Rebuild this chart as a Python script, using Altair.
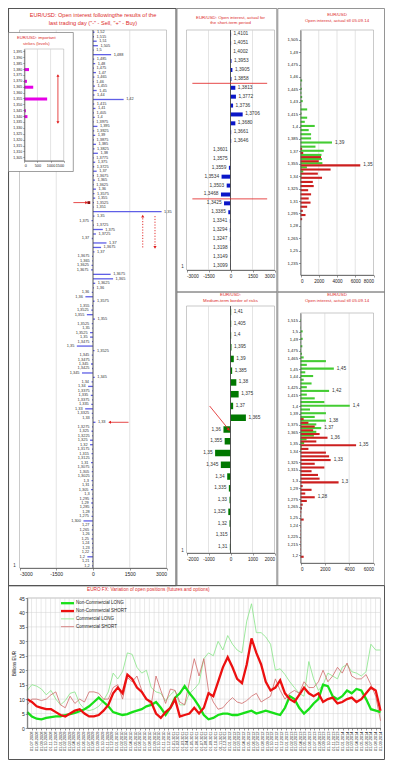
import altair as alt
import pandas as pd

FONT = "Liberation Sans"
TITLE_RED = "#dc2a2a"
ARROW_RED = "#e01b1b"
TXT = "#333333"
GRID = "#d2d2d2"
PFRAME = "#a6a6a6"
OFRAME = "#7a7a7a"
VW, VH = 377, 752

# ------------------------------------------------------------------ DATA
# Left panel: open interest after the last trading day (one row per strike line)
left_labels = [
    "1,52", "1,515", "1,51", "1,505", "1,5", "1,488", "1,485", "1,48", "1,475", "1,47",
    "1,465", "1,46", "1,455", "1,45", "1,44", "1,42", "1,415", "1,41", "1,405", "1,4",
    "1,3975", "1,395", "1,3925", "1,39", "1,3875", "1,385", "1,3825", "1,38", "1,3775", "1,375",
    "1,3725", "1,37", "1,3675", "1,365", "1,3625", "1,36", "1,3575", "1,355", "1,3525", "1,351",
    "1,35", "1,35", "1,375", "1,3725", "1,375", "1,3725", "1,37", "1,37", "1,3675", "1,37",
    "1,3675", "1,365", "1,3625", "1,3675", "1,3675", "1,365", "1,3625", "1,36", "1,36", "1,36",
    "1,3575", "1,355", "1,3525", "1,355", "1,355", "1,3525", "1,35", "1,3525", "1,35", "1,3475",
    "1,35", "1,3525", "1,345", "1,3475", "1,345", "1,3425", "1,345", "1,345", "1,34", "1,34",
    "1,3375", "1,335", "1,3375", "1,335", "1,33", "1,3325", "1,33", "1,33", "1,3275", "1,325",
    "1,3225", "1,325", "1,32", "1,3175", "1,315", "1,3125", "1,31", "1,3075", "1,305", "1,3025",
    "1,3", "1,31", "1,305", "1,3", "1,295", "1,29", "1,285", "1,28", "1,275", "1,300",
    "1,27", "1,265", "1,26", "1,25", "1,24", "1,23", "1,22", "1,2", "1,21", "1,2",
]
left_oi = [
    60, 40, 150, 200, 30, 740, 50, 90, 40, 120,
    60, 30, 80, 150, 60, 1250, 50, 100, 40, 70,
    30, 180, 50, 90, 40, 120, 60, 200, 30, 90,
    50, 150, 40, 80, 30, 120, 60, 90, 40, 30,
    2800, 60, -60, 40, 400, 120, -50, 550, 330, 60,
    -40, -30, -60, -80, 720, 820, 90, 40, -50, -310,
    60, -40, -70, -250, 80, -50, -30, -120, -120, -40,
    -660, 60, -50, -30, -80, -40, -450, 70, -60, -200,
    -30, -90, -40, -70, -320, -50, -30, 100, -40, -60,
    -30, -120, -120, -40, -60, -30, -80, -40, -50, -30,
    -60, -40, -80, -30, -50, -70, -40, -30, -60, -390,
    -40, -50, -30, -60, -40, -30, -50, -230, -40, -30,
]
left_idx = list(range(len(left_labels)))

# inset: important strikes (levels)
inset_strikes = ["1,395", "1,390", "1,385", "1,380", "1,375", "1,370", "1,365", "1,360", "1,355",
                 "1,350", "1,345", "1,340", "1,335", "1,330", "1,325", "1,320", "1,315", "1,310", "1,305"]
inset_oi = [0, 0, 0, 180, 0, 100, 340, 0, 870, 0, 60, 120, 0, 0, 0, 0, 0, 0, 0]

# middle top: short-term open interest
mt_strikes = ["1,4101", "1,4051", "1,4002", "1,3953", "1,3905", "1,3858", "1,3813", "1,3772", "1,3736",
              "1,3706", "1,3680", "1,3661", "1,3646", "1,3601", "1,3575", "1,3559", "1,3534", "1,3503",
              "1,3468", "1,3425", "1,3385", "1,3341", "1,3294", "1,3247", "1,3198", "1,3149", "1,3099"]
mt_oi = [40, 40, 20, 65, 130, 65, 330, 370, 175, 830, 330, 45, 45, -20, -20, -110, -610, -260,
         -650, -440, -150, -45, -45, -40, -20, -20, -20]
mt_borders = ["1,3813", "1,3425"]

# middle bottom: medium-term border of risks
mb_strikes = ["1,41", "1,405", "1,4", "1,395", "1,39", "1,385", "1,38", "1,375", "1,37", "1,365",
              "1,36", "1,355", "1,35", "1,345", "1,34", "1,335", "1,33", "1,325", "1,32", "1,315", "1,31"]
mb_oi = [30, 30, 30, 45, 150, 75, 265, 370, 120, 700, -320, -265, -700, -440, -150, -75, -45, -100,
         -45, -15, -30]

# right top: open interest (calls green / puts red)
rt_strikes = [1.505, 1.5, 1.495, 1.49, 1.485, 1.48, 1.475, 1.47, 1.465, 1.46, 1.455, 1.45, 1.445, 1.44,
              1.435, 1.43, 1.425, 1.42, 1.415, 1.41, 1.405, 1.4, 1.395, 1.39, 1.385, 1.38, 1.375, 1.37,
              1.365, 1.36, 1.355, 1.35, 1.345, 1.34, 1.335, 1.33, 1.325, 1.32, 1.315, 1.31, 1.305, 1.3,
              1.295, 1.29, 1.285, 1.28, 1.275, 1.27, 1.265, 1.26, 1.255, 1.25, 1.245, 1.24, 1.235, 1.23]
rt_call = [0, 0, 0, 0, 0, 0, 0, 0, 0, 0, 180, 60, 150, 100, 180, 250, 60, 730, 120, 730, 470, 1560,
           900, 1160, 1160, 3450, 1640, 2550, 2300, 2350, 2400, 700, 300, 100, 50, 0, 0, 0, 0, 0, 0, 0,
           0, 0, 0, 0, 0, 0, 0, 0, 0, 0, 0, 0, 0, 0]
rt_put = [0, 0, 0, 0, 0, 0, 0, 0, 0, 0, 0, 0, 0, 0, 0, 0, 0, 0, 0, 0, 0, 0, 0, 0, 0, 0, 180, 300,
          2250, 2000, 6550, 3300, 1900, 2360, 1350, 1450, 840, 1160, 900, 1100, 730, 250, 550, 180, 0,
          0, 0, 0, 0, 0, 0, 0, 0, 0, 0, 0]
rt_ticks = [1.505, 1.49, 1.475, 1.46, 1.445, 1.43, 1.415, 1.4, 1.385, 1.37, 1.355, 1.34, 1.325, 1.31,
            1.295, 1.28, 1.265, 1.25, 1.235]
rt_call_notes = {"strike": [1.38], "call": [3450], "t": ["1,39"]}
rt_put_notes = {"strike": [1.355], "put": [6550], "t": ["1,35"]}

# right bottom: open interest (calls green / puts red)
rb_strikes = [1.515, 1.51, 1.505, 1.5, 1.495, 1.49, 1.485, 1.48, 1.475, 1.47, 1.465, 1.46, 1.455, 1.45,
              1.445, 1.44, 1.435, 1.43, 1.425, 1.42, 1.415, 1.41, 1.405, 1.4, 1.395, 1.39, 1.385, 1.38,
              1.375, 1.37, 1.365, 1.36, 1.355, 1.35, 1.345, 1.34, 1.335, 1.33, 1.325, 1.32, 1.315, 1.31,
              1.305, 1.3, 1.295, 1.29, 1.285, 1.28, 1.275, 1.27, 1.265, 1.26, 1.255, 1.25, 1.245, 1.24,
              1.235, 1.23, 1.225, 1.22, 1.215, 1.21, 1.205, 1.2]
rb_call = [40, 0, 30, 180, 30, 180, 30, 150, 40, 120, 260, 2090, 520, 2740, 390, 1040, 260, 910, 520,
           2350, 520, 1170, 1960, 4050, 780, 2090, 1170, 2090, 1300, 1700, 1300, 1100, 500, 300, 100, 60,
           0, 0, 0, 0, 0, 0, 0, 0, 0, 0, 0, 0, 0, 0, 0, 0, 0, 0, 0, 0, 0, 0, 0, 0, 0, 0, 0, 0]
rb_put = [0, 0, 0, 0, 0, 0, 0, 0, 0, 0, 0, 0, 0, 0, 0, 0, 0, 0, 0, 0, 0, 0, 0, 0, 0, 0, 260, 650, 1170,
          1040, 1570, 2220, 1300, 4570, 650, 2090, 2350, 2480, 1170, 1960, 910, 1440, 1570, 3130, 180,
          910, 390, 1170, 520, 180, 120, 60, 40, 260, 30, 30, 30, 30, 30, 30, 30, 30, 30, 260]
rb_ticks = [1.515, 1.5, 1.49, 1.475, 1.465, 1.45, 1.44, 1.425, 1.415, 1.4, 1.39, 1.375, 1.365, 1.35,
            1.34, 1.325, 1.315, 1.3, 1.29, 1.275, 1.265, 1.25, 1.24, 1.225, 1.215, 1.2]
rb_call_notes = {"strike": [1.45, 1.42, 1.4, 1.38, 1.37], "call": [2740, 2350, 4050, 2090, 1700],
                 "t": ["1,45", "1,42", "1,4", "1,38", "1,37"]}
rb_put_notes = {"strike": [1.36, 1.35, 1.33, 1.3, 1.28], "put": [2220, 4570, 2480, 3130, 1170],
                "t": ["1,36", "1,35", "1,33", "1,3", "1,28"]}

# bottom: EURO FX open positions, billions EUR
series_names = ["Non-Commercial LONG", "Non-Commercial SHORT", "Commercial LONG", "Commercial SHORT"]
series_colors = ["#18e018", "#ec1010", "#86e486", "#cf6a6a"]
nc_long = [5.5, 4, 3.2, 3, 3.5, 3.8, 4, 4, 4.5, 4.8, 5.2, 5.8, 6.5, 7.5, 9, 10.5, 9, 7.5, 5.5, 5,
           4.5, 4.8, 5.5, 6, 6.5, 7.5, 8, 9, 7, 4.5, 7, 10.5, 12, 14.5, 12, 10, 7.5, 4.5, 3, 3.5,
           4.5, 5, 5, 4.5, 4.5, 5, 5.5, 6, 5, 5.5, 6, 5.5, 5, 4.5, 7, 11, 10, 7, 5, 6.5,
           8.5, 10, 15, 14.5, 11, 10, 11, 13, 12, 13.5, 13, 10, 6.5, 6, 5.5]
nc_short = [10, 9, 7.5, 7, 6.5, 6.5, 5.5, 4.5, 4, 5, 6, 6.5, 5, 4, 4, 4.5, 6, 8, 12, 14,
            12, 18.5, 17, 14, 12.5, 10, 9, 5, 3.5, 5.5, 7, 10, 4, 4.5, 5, 7, 5, 7, 12, 11,
            16, 21, 24.5, 21, 17, 15.5, 22, 31, 26, 22, 16, 13, 14, 16.5, 12, 10, 9, 11.5, 14, 12,
            11, 12, 9, 10, 10.5, 8.5, 9, 10, 10.5, 9, 10, 12, 14, 13, 6]
c_long = [13, 15, 14.5, 13.5, 11.5, 13, 10, 8, 9.5, 12, 12.5, 8.5, 6.5, 6, 6.5, 7.5, 9.5, 12.5, 19, 17,
          19.5, 26, 25.5, 21, 19, 20, 14, 12.5, 12, 9.5, 11.5, 13, 8, 8, 12, 13.5, 15.5, 24, 26, 25,
          30, 27, 32, 29, 27, 26, 37, 43, 33, 33, 31.5, 29, 20, 20.5, 18.5, 16, 14, 12, 11, 23,
          17, 13, 15, 19, 18, 17, 21, 22, 19.5, 19, 18, 19.5, 29, 27, 27]
c_short = [8, 10, 10, 9.5, 10, 11.5, 12.5, 8, 7, 11, 8.5, 10, 9, 12.5, 12.5, 12, 10, 10, 14, 15,
           10, 17.5, 16, 18, 13, 10, 8, 18, 13, 8.5, 13.5, 13, 9, 8, 16, 24, 18, 24, 13, 9,
           6.5, 7, 9, 10.5, 9, 8.5, 9.5, 11, 12, 9, 10, 11, 17, 13, 10, 12, 13, 12, 16, 14,
           14, 16, 20, 16, 18, 21, 19, 22.5, 18, 17, 17, 18.5, 15, 11, 2.5]
series_start, series_end = "2008-06-03", "2014-09-02"
tick_months = [(y, m) for y in range(2008, 2015) for m in range(1, 13)
               if (2008, 7) <= (y, m) <= (2014, 9)]

# ------------------------------------------------------------------ helpers
ONE = pd.DataFrame({"f": [0]})


def rect(x1, x2, y1, y2, stroke=OFRAME, sw=0.8, fill="white", fo=0.0):
    return alt.Chart(ONE).mark_rect(fill=fill, fillOpacity=fo, stroke=stroke, strokeWidth=sw).encode(
        x=alt.value(x1), x2=alt.value(x2), y=alt.value(y1), y2=alt.value(y2))


def label(x, y, text, size=5.0, color=TXT, align="center"):
    return alt.Chart(pd.DataFrame({"t": [text]})).mark_text(
        fontSize=size, color=color, align=align, font=FONT, baseline="middle").encode(
        x=alt.value(x), y=alt.value(y), text="t:N")


def xq(field, dom, rng, ticks, axis_y, size=4.8):
    return alt.X(f"{field}:Q", stack=None, scale=alt.Scale(domain=dom, range=rng, nice=False),
                 axis=alt.Axis(orient="bottom", offset=axis_y - VH, values=ticks, grid=False, title=None,
                               labelExpr="datum.value + ''", labelFontSize=size, zindex=1))


def vgrid(field, values, xenc, y1, y2):
    return alt.Chart(pd.DataFrame({field: values})).mark_rule(color=GRID, strokeWidth=0.6).encode(
        x=xenc, y=alt.value(y1), y2=alt.value(y2))


def zero_line(y1, y2):
    return alt.Chart(ONE).mark_rule(color="#444", strokeWidth=0.9).encode(
        x=alt.datum(0), y=alt.value(y1), y2=alt.value(y2))


def bar_labels(df, xenc, yenc, field, size):
    pos = alt.Chart(df).transform_filter("datum.v >= 0").mark_text(
        align="left", dx=2.5, fontSize=size, color=TXT, font=FONT, baseline="middle").encode(
        x=xenc, y=yenc, text=f"{field}:N")
    neg = alt.Chart(df).transform_filter("datum.v < 0").mark_text(
        align="right", dx=-2.5, fontSize=size, color=TXT, font=FONT, baseline="middle").encode(
        x=xenc, y=yenc, text=f"{field}:N")
    return [pos, neg]


# ------------------------------------------------------------------ LEFT PANEL
L_X, L_Y = (11.5, 158.5), (22, 560)
left_df = pd.DataFrame({"idx": left_idx, "lab": left_labels, "v": left_oi})
lx = xq("v", [-3000, 3000], list(L_X), [-3000, -1500, 0, 1500, 3000], L_Y[1], 5)
ly = alt.Y("idx:O", scale=alt.Scale(domain=left_idx, range=list(L_Y), paddingInner=0, paddingOuter=0),
           axis=None)
la_df = pd.DataFrame({"v": [-800, 1450], "v2": [-260, 680], "idx": [38, 87]})
ld_df = pd.DataFrame({"v": [2030, 2530], "idx": [48, 41], "idx2": [41, 48]})
lh_df = pd.DataFrame({"v": [-260, 680, 2030, 2530], "idx": [38, 87, 41, 48],
                      "shape": ["triangle-right", "triangle-left", "triangle-up", "triangle-down"]})
lsq_df = pd.DataFrame({"v": [-170], "idx": [38]})

left_main = alt.layer(
    rect(L_X[0], L_X[1], L_Y[0], L_Y[1], PFRAME, 0.6),
    vgrid("v", [-1500, 1500], lx, L_Y[0], L_Y[1]),
    alt.Chart(left_df).mark_bar(color="#5f5fe6", size=1.3).encode(x=lx, y=ly),
    zero_line(L_Y[0], L_Y[1]),
    *bar_labels(left_df, lx, ly, "lab", 3.9),
    alt.Chart(la_df).mark_rule(color=ARROW_RED, strokeWidth=0.8).encode(x=lx, x2="v2", y=ly),
    alt.Chart(ld_df).mark_rule(color=ARROW_RED, strokeWidth=0.9, strokeDash=[1.2, 1.6]).encode(
        x=lx, y=ly, y2="idx2"),
    alt.Chart(lh_df).mark_point(filled=True, size=10, color=ARROW_RED, opacity=1).encode(
        x=lx, y=ly, shape=alt.Shape("shape:N", scale=None)),
    alt.Chart(lsq_df).mark_point(filled=True, shape="square", size=8, color="#8b1010", opacity=1).encode(
        x=lx, y=ly),
)

# inset
I_X, I_Y = (16.3, 55.7), (41, 152.7)
inset_df = pd.DataFrame({"strike": inset_strikes, "v": inset_oi})
ix = alt.X("v:Q", scale=alt.Scale(domain=[0, 1500], range=list(I_X), nice=False),
           axis=alt.Axis(orient="bottom", offset=I_Y[1] - VH, values=[0, 500, 1000, 1500], grid=False,
                         title=None, labelFontSize=3.8, tickSize=1.5, labelExpr="datum.value + ''",
                         zindex=1, labelPadding=1))
iy = alt.Y("strike:N", sort=None, scale=alt.Scale(domain=inset_strikes, range=list(I_Y),
                                                   paddingInner=0, paddingOuter=0),
           axis=alt.Axis(orient="left", offset=-I_X[0], title=None, labelFontSize=3.6, tickSize=1.5,
                         labelPadding=1, zindex=1, grid=False))
ia_df = pd.DataFrame({"v": [1280], "strike": ["1,375"], "strike2": ["1,335"]})
ih_df = pd.DataFrame({"v": [1280, 1280], "strike": ["1,375", "1,335"],
                      "shape": ["triangle-up", "triangle-down"]})
left_inset = alt.layer(
    rect(0.5, 65.3, 24.5, 163.5, "#777", 0.7, fo=1.0),
    rect(I_X[0], I_X[1], I_Y[0], I_Y[1], PFRAME, 0.5),
    vgrid("v", [500, 1000], ix, I_Y[0], I_Y[1]),
    alt.Chart(inset_df).mark_bar(color="#e600e6", size=3).encode(x=ix, y=iy),
    alt.Chart(ia_df).mark_rule(color=ARROW_RED, strokeWidth=0.8).encode(x=ix, y=iy, y2="strike2"),
    alt.Chart(ih_df).mark_point(filled=True, size=9, color=ARROW_RED, opacity=1).encode(
        x=ix, y=iy, shape=alt.Shape("shape:N", scale=None)),
)

# ------------------------------------------------------------------ MIDDLE TOP
M_X, MT_Y, MB_Y = (178.5, 266.5), (22, 262), (298, 545)
mt_df = pd.DataFrame({"strike": mt_strikes, "v": mt_oi})
mtx = xq("v", [-3000, 3000], list(M_X), [-3000, -1500, 0, 1500, 3000], MT_Y[1], 4.6)
mty = alt.Y("strike:N", sort=None, scale=alt.Scale(domain=mt_strikes, range=list(MT_Y)), axis=None)
mt_line_df = pd.DataFrame({"strike": mt_borders, "v": [-2600, -2600], "v2": [2500, 2500]})
mid_top = alt.layer(
    rect(M_X[0], M_X[1], MT_Y[0], MT_Y[1], PFRAME, 0.6),
    vgrid("v", [-1500, 1500], mtx, MT_Y[0], MT_Y[1]),
    alt.Chart(mt_df).mark_bar(color="#0a16c8", size=4).encode(x=mtx, y=mty),
    zero_line(MT_Y[0], MT_Y[1]),
    *bar_labels(mt_df, mtx, mty, "strike", 4.8),
    alt.Chart(mt_line_df).mark_rule(color=ARROW_RED, strokeWidth=0.8, yOffset=-4.45).encode(
        x=mtx, x2="v2", y=mty),
)

# ------------------------------------------------------------------ MIDDLE BOTTOM
mb_df = pd.DataFrame({"strike": mb_strikes, "v": mb_oi})
mbx = xq("v", [-2000, 2000], list(M_X), [-2000, -1000, 0, 1000, 2000], MB_Y[1], 4.6)
mby = alt.Y("strike:N", sort=None, scale=alt.Scale(domain=mb_strikes, range=list(MB_Y)), axis=None)
mb_arr_df = pd.DataFrame({"v": [-950], "v2": [-80], "strike": ["1,37"], "strike2": ["1,36"]})
mb_head_df = pd.DataFrame({"v": [-80], "strike": ["1,36"]})
mid_bottom = alt.layer(
    rect(M_X[0], M_X[1], MB_Y[0], MB_Y[1], PFRAME, 0.6),
    vgrid("v", [-1000, 1000], mbx, MB_Y[0], MB_Y[1]),
    alt.Chart(mb_df).mark_bar(color="#007800", size=6.5).encode(x=mbx, y=mby),
    zero_line(MB_Y[0], MB_Y[1]),
    *bar_labels(mb_df, mbx, mby, "strike", 4.8),
    alt.Chart(mb_arr_df).mark_rule(color=ARROW_RED, strokeWidth=0.8).encode(
        x=mbx, x2="v2", y=mby, y2="strike2"),
    alt.Chart(mb_head_df).mark_point(shape="triangle-up", angle=141, filled=True, size=12,
                                     color=ARROW_RED, opacity=1).encode(x=mbx, y=mby),
)

# ------------------------------------------------------------------ RIGHT PANELS
R_X = (292.5, 365.5)
FMT = "replace(format(datum.value, '.3~f'), '.', ',')"


def oi_panel(strikes, calls, puts, ticks, ydom, yrng, xdom, xticks, grid_vals, call_notes, put_notes):
    df = pd.DataFrame({"strike": strikes, "call": calls, "put": puts})
    y = alt.Y("strike:Q", scale=alt.Scale(domain=ydom, range=[yrng[1], yrng[0]], nice=False, zero=False),
              axis=alt.Axis(orient="left", offset=-R_X[0], values=ticks, labelExpr=FMT, title=None,
                            labelFontSize=4.2, grid=False, tickSize=2, zindex=1))
    xc = xq("call", xdom, list(R_X), xticks, yrng[1], 4.6)
    xp = xq("put", xdom, list(R_X), xticks, yrng[1], 4.6)
    return alt.layer(
        rect(R_X[0], R_X[1], yrng[0], yrng[1], PFRAME, 0.6),
        vgrid("call", grid_vals, xc, yrng[0], yrng[1]),
        alt.Chart(df).mark_bar(orient="horizontal", color="#44cc33", size=2.1, yOffset=-0.6).encode(x=xc, y=y),
        alt.Chart(df).mark_bar(orient="horizontal", color="#cc1f1f", size=2.1, yOffset=1.6).encode(x=xp, y=y),
        alt.Chart(pd.DataFrame(call_notes)).mark_text(
            align="left", dx=3, dy=-0.6, fontSize=4.8, color=TXT, font=FONT, baseline="middle").encode(
            x=xc, y=y, text="t:N"),
        alt.Chart(pd.DataFrame(put_notes)).mark_text(
            align="left", dx=3, dy=1.6, fontSize=4.8, color=TXT, font=FONT, baseline="middle").encode(
            x=xp, y=y, text="t:N"),
    )


right_top = oi_panel(rt_strikes, rt_call, rt_put, rt_ticks, [1.2266, 1.5107], (22, 267), [0, 8000],
                     [0, 2000, 4000, 6000, 8000], [2000, 4000, 6000], rt_call_notes, rt_put_notes)
right_bottom = oi_panel(rb_strikes, rb_call, rb_put, rb_ticks, [1.1962, 1.5188], (305, 555), [0, 6000],
                        [0, 2000, 4000, 6000], [2000, 4000], rb_call_notes, rb_put_notes)

# ------------------------------------------------------------------ BOTTOM LINE CHART
B_X, B_Y = (19.2, 372.5), (590, 720)
dates = pd.date_range(series_start, series_end, periods=len(nc_long))
rows = []
for name, vals in zip(series_names, [nc_long, nc_short, c_long, c_short]):
    for d, v in zip(dates, vals):
        rows.append({"date": d.strftime("%Y-%m-%d"), "series": name, "value": v})
bottom_df = pd.DataFrame(rows)

tick_vals = [alt.DateTime(year=y, month=m, date=1) for (y, m) in tick_months]
tick_strs = [f"{y}-{m:02d}-01" for (y, m) in tick_months]
bx = alt.X("date:T",
           scale=alt.Scale(domain=[alt.DateTime(year=2008, month=6, date=3),
                                   alt.DateTime(year=2014, month=9, date=2)], range=list(B_X)),
           axis=alt.Axis(orient="bottom", offset=B_Y[1] - VH, values=tick_vals, format="%d.%m.%Y",
                         labelAngle=270, labelFontSize=3.9, grid=False, title=None, tickSize=2,
                         labelPadding=1, labelOverlap=False, zindex=1))
by = alt.Y("value:Q", scale=alt.Scale(domain=[0, 45], range=[B_Y[1], B_Y[0]], nice=False),
           axis=alt.Axis(orient="left", offset=-B_X[0], values=list(range(0, 50, 5)), title="Billions EUR",
                         titleFontSize=4.5, titlePadding=2, grid=False, labelFontSize=5,
                         titleFontWeight="normal", zindex=1))
bcolor = alt.Color("series:N", scale=alt.Scale(domain=series_names, range=series_colors), legend=None)

bottom_lines = alt.layer(
    rect(B_X[0], B_X[1], B_Y[0], B_Y[1], PFRAME, 0.6),
    alt.Chart(pd.DataFrame({"date": tick_strs})).mark_rule(color=GRID, strokeWidth=0.5).encode(
        x=bx, y=alt.value(B_Y[0]), y2=alt.value(B_Y[1])),
    alt.Chart(pd.DataFrame({"value": list(range(5, 50, 5))})).mark_rule(color=GRID, strokeWidth=0.5).encode(
        y=by, x=alt.value(B_X[0]), x2=alt.value(B_X[1])),
    alt.Chart(bottom_df).transform_filter(
        alt.FieldOneOfPredicate(field="series", oneOf=series_names[2:])).mark_line(strokeWidth=0.8).encode(
        x=bx, y=by, color=bcolor),
    alt.Chart(bottom_df).transform_filter(
        alt.FieldOneOfPredicate(field="series", oneOf=series_names[:2])).mark_line(strokeWidth=2.3).encode(
        x=bx, y=by, color=bcolor),
)

leg_df = pd.DataFrame({"series": series_names})
legy = alt.Y("series:N", scale=alt.Scale(type="point", domain=series_names, range=[595.2, 618.7], padding=0),
             axis=None)
bottom_legend = alt.layer(
    alt.Chart(leg_df).transform_filter(
        alt.FieldOneOfPredicate(field="series", oneOf=series_names[:2])).mark_rule(strokeWidth=2.3).encode(
        x=alt.value(53), x2=alt.value(66), y=legy, color=bcolor),
    alt.Chart(leg_df).transform_filter(
        alt.FieldOneOfPredicate(field="series", oneOf=series_names[2:])).mark_rule(strokeWidth=0.8).encode(
        x=alt.value(53), x2=alt.value(66), y=legy, color=bcolor),
    alt.Chart(leg_df).mark_text(align="left", fontSize=4.5, color="#222", font=FONT, baseline="middle").encode(
        x=alt.value(68), y=legy, text="series:N"),
)

# ------------------------------------------------------------------ frames and titles
decor = alt.layer(
    rect(0.5, 168, 0.5, 577.6, "#555", 1.1),
    rect(169, 268.8, 0.5, 284, OFRAME, 0.8),
    rect(169, 268.8, 284, 577.6, OFRAME, 0.8),
    rect(269.8, 376.5, 0.5, 284, OFRAME, 0.8),
    rect(269.8, 376.5, 284, 577.6, OFRAME, 0.8),
    rect(0.5, 376.5, 577.6, 751.5, "#555", 1.0),
)
texts = alt.layer(
    label(85, 7.3, "EUR/USD: Open interest followingthe results of the", 5.6, TITLE_RED),
    label(85, 14.7, 'last trading day ("-" - Sell, "+" - Buy)', 5.6, TITLE_RED),
    label(28.3, 30.3, "EUR/USD: important", 4.2, TITLE_RED),
    label(28.3, 36.2, "strikes (levels)", 4.2, TITLE_RED),
    label(222.5, 9.8, "EUR/USD: Open interest, actual for", 4.4, TITLE_RED),
    label(222.5, 14.7, "the short-term period", 4.4, TITLE_RED),
    label(329, 6.9, "EUR/USD", 4.4, TITLE_RED),
    label(329, 12.7, "Open interest, actual till 05.09.14", 4.4, TITLE_RED),
    label(222.5, 287, "EUR/USD:", 4.4, TITLE_RED),
    label(222.5, 292.7, "Medium-term border of risks", 4.4, TITLE_RED),
    label(329, 287, "EUR/USD", 4.4, TITLE_RED),
    label(329, 292.7, "Open interest, actual till 05.09.14", 4.4, TITLE_RED),
    label(79, 581.5, "EURO FX: Variation of open positions (futures and options)", 4.7, TITLE_RED, "left"),
    label(6.5, 558, "1", 4.5),
    label(174.5, 259, "1", 4.5),
    label(174.5, 543, "1", 4.5),
)

chart = alt.layer(
    decor, left_main, left_inset, mid_top, mid_bottom, right_top, right_bottom, bottom_lines,
    bottom_legend, texts
).resolve_scale(x="independent", y="independent").properties(
    width=VW, height=VH, autosize=alt.AutoSizeParams(type="none"),
    padding={"left": 0, "top": 0, "right": 0, "bottom": 0}, background="white"
).configure_axis(
    labelFont=FONT, titleFont=FONT, labelColor="#222", titleColor="#222", domainColor="#555",
    domainWidth=0.8, tickColor="#555", tickWidth=0.6, tickSize=2, labelPadding=1
).configure_view(strokeWidth=0).configure_text(font=FONT)

chart.save("out.html", embed_options={"renderer": "svg", "actions": False})
